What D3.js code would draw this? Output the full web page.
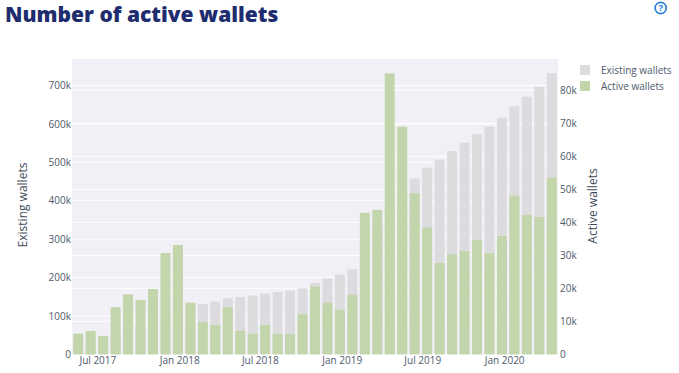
<!DOCTYPE html>
<html>
<head>
<meta charset="utf-8">
<script src="https://cdn.jsdelivr.net/npm/d3@7"></script>
<style>
  html, body { margin: 0; padding: 0; background: #fff; }
  text { font-family: "Open Sans", sans-serif; }
</style>
</head>
<body>
<div id="chart"></div>
<script>
const firstDate = "2017-05-19"
const existingWallets = [
  20000, 30000, 40000, 50000, 60000, 70000, 85000, 100000, 115000, 125000,
  131000, 137100, 145800, 149300, 152800, 158000, 162300, 165800, 171900, 185800,
  197900, 207500, 221300, 290000, 330000, 380000, 420000, 458000, 486000, 507000,
  529000, 551000, 573000, 593000, 616000, 646000, 671000, 697000, 732000
]
const activeWallets = [
  6260, 7070, 5555, 14240, 18180, 16460, 19800, 30700, 33130, 15650,
  9800, 8890, 14240, 7070, 6160, 8890, 6160, 6160, 12120, 20500,
  15650, 13430, 17980, 42900, 43730, 85150, 69000, 48780, 38380, 27670,
  30300, 31300, 34640, 30600, 35850, 48080, 42200, 41600, 53500
]
const legendLabels = ["Existing wallets", "Active wallets"]
const existingTicks = [0, 100000, 200000, 300000, 400000, 500000, 600000, 700000]
const activeTicks = [0, 10000, 20000, 30000, 40000, 50000, 60000, 70000, 80000]

const width = 679
const height = 373
const plot = { left: 72, right: 558, top: 59, bottom: 354.3 }
const colors = { bg: "#f0f0f6", existing: "#dcdcdf", active: "#c3d5aa", tick: "#4d5a6c", axisTitle: "#434c5a", title: "#1e2d6e" }

const start = d3.isoParse(firstDate + "T00:00:00Z")
const dates = activeWallets.map((_, i) => d3.utcDay.offset(start, i * 28))

const x = d3.scaleUtc()
  .domain([d3.utcDay.offset(dates[0], -14), d3.utcDay.offset(dates[dates.length - 1], 14)])
  .range([plot.left, plot.right])
const yLeft = d3.scaleLinear().domain([0, 769000]).range([plot.bottom, plot.top])
const yRight = d3.scaleLinear().domain([0, 89500]).range([plot.bottom, plot.top])
const barWidth = (x(dates[1]) - x(dates[0])) * 0.8

const kFormat = d => d === 0 ? "0" : (d / 1000) + "k"

const svg = d3.select("#chart")
  .append("svg")
  .attr("width", width)
  .attr("height", height)
  .style("display", "block")

// Title
svg.append("text")
  .attr("x", 5)
  .attr("y", 21.5)
  .attr("font-size", 21)
  .attr("font-weight", 800)
  .attr("fill", colors.title)
  .text("Number of active wallets")

// Help icon
const help = svg.append("g").attr("transform", "translate(660.7,8)")
help.append("circle").attr("r", 5.6).attr("fill", "#fff").attr("stroke", "#2a7fd4").attr("stroke-width", 1.6)
help.append("text")
  .attr("text-anchor", "middle")
  .attr("dy", "0.36em")
  .attr("font-size", 9.5)
  .attr("font-weight", 700)
  .attr("fill", "#2a7fd4")
  .text("?")

// Plot background
svg.append("rect")
  .attr("x", plot.left)
  .attr("y", plot.top)
  .attr("width", plot.right - plot.left)
  .attr("height", plot.bottom - plot.top)
  .attr("fill", colors.bg)

// Grid lines for both y axes
const grid = svg.append("g")
grid.selectAll(".grid-left")
  .data(existingTicks.slice(1))
  .join("line")
  .attr("x1", plot.left)
  .attr("x2", plot.right)
  .attr("y1", d => yLeft(d))
  .attr("y2", d => yLeft(d))
  .attr("stroke", "#fff")
  .attr("stroke-width", 1)
grid.selectAll(".grid-right")
  .data(activeTicks.slice(1))
  .join("line")
  .attr("x1", plot.left)
  .attr("x2", plot.right)
  .attr("y1", d => yRight(d))
  .attr("y2", d => yRight(d))
  .attr("stroke", "#fff")
  .attr("stroke-width", 1)

// Bars
svg.append("g").selectAll("rect")
  .data(existingWallets)
  .join("rect")
  .attr("x", (d, i) => x(dates[i]) - barWidth / 2)
  .attr("y", d => yLeft(d))
  .attr("width", barWidth)
  .attr("height", d => plot.bottom - yLeft(d))
  .attr("fill", colors.existing)

svg.append("g").selectAll("rect")
  .data(activeWallets)
  .join("rect")
  .attr("x", (d, i) => x(dates[i]) - barWidth / 2)
  .attr("y", d => yRight(d))
  .attr("width", barWidth)
  .attr("height", d => plot.bottom - yRight(d))
  .attr("fill", colors.active)

// Axes
function styleAxis(g) {
  g.select(".domain").remove()
  g.selectAll(".tick line").remove()
  g.selectAll("text")
    .attr("font-size", 10)
    .attr("font-family", '"Open Sans", sans-serif')
    .attr("fill", colors.tick)
}

svg.append("g")
  .attr("transform", `translate(0,${plot.bottom})`)
  .call(d3.axisBottom(x)
    .tickValues(d3.utcMonth.range(new Date(Date.UTC(2017, 6, 1)), new Date(Date.UTC(2020, 1, 1)), 6))
    .tickFormat(d3.utcFormat("%b %Y"))
    .tickSize(0)
    .tickPadding(3))
  .call(styleAxis)

svg.append("g")
  .attr("transform", `translate(${plot.left},0)`)
  .call(d3.axisLeft(yLeft).tickValues(existingTicks).tickFormat(kFormat).tickSize(0).tickPadding(1))
  .call(styleAxis)

svg.append("g")
  .attr("transform", `translate(${plot.right},0)`)
  .call(d3.axisRight(yRight).tickValues(activeTicks).tickFormat(kFormat).tickSize(0).tickPadding(2))
  .call(styleAxis)

// Axis titles
svg.append("text")
  .attr("transform", "translate(27,205) rotate(-90)")
  .attr("text-anchor", "middle")
  .attr("font-size", 12)
  .attr("fill", colors.axisTitle)
  .text("Existing wallets")

svg.append("text")
  .attr("transform", "translate(597,206) rotate(-90)")
  .attr("text-anchor", "middle")
  .attr("font-size", 12)
  .attr("fill", colors.axisTitle)
  .text("Active wallets")

// Legend
const legend = svg.append("g").selectAll("g")
  .data(legendLabels)
  .join("g")
  .attr("transform", (d, i) => `translate(580,${65 + i * 16})`)
legend.append("rect")
  .attr("width", 10)
  .attr("height", 10)
  .attr("fill", (d, i) => i === 0 ? colors.existing : colors.active)
legend.append("text")
  .attr("x", 21)
  .attr("y", 5)
  .attr("dy", "0.35em")
  .attr("font-size", 10)
  .attr("fill", colors.tick)
  .text(d => d)
</script>
</body>
</html>
